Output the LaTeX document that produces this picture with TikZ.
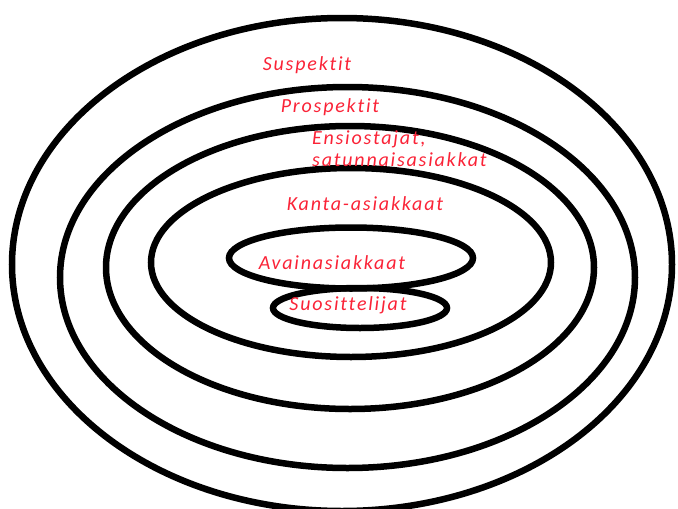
\documentclass[tikz,border=0pt]{standalone}
\usepackage{fontspec}
\setmainfont{Carlito}
\newfontfamily\nimifontti[LetterSpace=9,Ligatures=NoCommon]{Carlito}
\usepackage{tikz}

\definecolor{nimipuna}{RGB}{250,35,55}

\begin{document}
\begin{tikzpicture}[x=1pt,y=-1pt,
    rengas/.style={line width=6.5pt},
    nimi/.style={text=nimipuna,font=\nimifontti\fontsize{20}{22}\selectfont\itshape,inner sep=0pt}]
  \useasboundingbox (0,0) rectangle (678,509);
  \clip (0,0) rectangle (678,509);
  % Renkaat ulkoa sisaan
  \draw[rengas] (342,264.5) ellipse (330 and 246.5);
  \draw[rengas] (347.5,277.5) ellipse (287.5 and 190.5);
  \draw[rengas] (350,267.5) ellipse (244 and 141.5);
  \draw[rengas] (351,262.5) ellipse (200 and 94.5);
  % Kaksi pienta soikiota keskella
  \draw[rengas] (351,258) ellipse (122 and 30.5);
  \draw[rengas] (360,308) ellipse (87 and 20);
  % Nimet
  \node[nimi] (susp) at (307,65)  {Suspektit};
  \node[nimi] (prosp) at (330,107) {Prospektit};
  \node[nimi,anchor=west,align=left] (ensi) at (312,149)
    {Ensiostajat,\\satunnaisasiakkat};
  \node[nimi] (kanta) at (365,204) {Kanta-asiakkaat};
  \node[nimi] (avain) at (332,263) {Avainasiakkaat};
  \node[nimi] (suos) at (348,305) {Suosittelijat};
\end{tikzpicture}
\end{document}
